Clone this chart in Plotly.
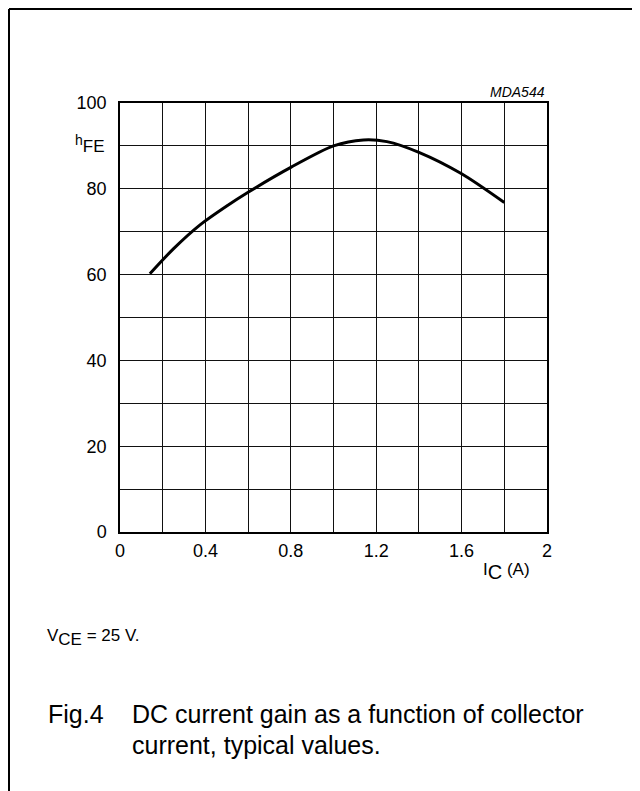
import plotly.graph_objects as go

# Data
ic_values = [0.14, 0.25, 0.375, 0.5, 0.6, 0.8, 1.0, 1.14, 1.25, 1.4, 1.6, 1.8]
hfe_values = [60.2, 66.0, 71.6, 76.0, 79.2, 85.0, 90.0, 91.4, 91.0, 88.5, 83.5, 76.8]

x_tickvals = [0, 0.4, 0.8, 1.2, 1.6, 2.0]
x_ticktext = ["0", "0.4", "0.8", "1.2", "1.6", "2"]
x_gridvals = [0.2, 0.6, 1.0, 1.4, 1.8]
y_tickvals = [0, 20, 40, 60, 80, 100]
y_ticktext = ["0", "20", "40", "60", "80", "100"]
y_gridvals = [10, 30, 50, 70, 90]

W, H = 640, 791
OFF = 8  # page body margin: screen = figure + 8
L, R, T, B = 120 - OFF, 547 - OFF, 103 - OFF, 532 - OFF
pw, ph = R - L, B - T


def px(xs):
    # screen pixel -> paper x
    return (xs - OFF - L) / pw


def py(ys):
    # screen pixel -> paper y
    return (B - (ys - OFF)) / ph


FONT = "Liberation Sans, Arial, sans-serif"
GRID = "#111111"

fig = go.Figure()
fig.add_trace(go.Scatter(
    x=ic_values, y=hfe_values, mode="lines",
    line=dict(color="black", width=3, shape="spline", smoothing=0.8),
    hoverinfo="skip", showlegend=False,
))

axis_common = dict(
    showgrid=True, gridcolor=GRID, gridwidth=1,
    showline=True, linecolor="black", linewidth=1.5, mirror=True,
    zeroline=False, ticks="", tickfont=dict(family=FONT, size=18, color="black"),
    tickmode="array",
)

fig.update_xaxes(range=[0, 2], tickvals=x_tickvals, ticktext=x_ticktext,
                 ticklabelstandoff=2,
                 minor=dict(tickmode="array", tickvals=x_gridvals, showgrid=True,
                            gridcolor=GRID, gridwidth=1, ticks=""),
                 **axis_common)
fig.update_yaxes(range=[0, 100], tickvals=y_tickvals, ticktext=y_ticktext,
                 ticklabelstandoff=8,
                 minor=dict(tickmode="array", tickvals=y_gridvals, showgrid=True,
                            gridcolor=GRID, gridwidth=1, ticks=""),
                 **axis_common)

annotations = [
    dict(text="<i>MDA544</i>", x=px(547), y=py(92), xanchor="right", yanchor="middle",
         font=dict(size=14)),
    dict(text="<sup><span style='font-size:14px'>h</span></sup>FE", x=px(107), y=py(144),
         xanchor="right", yanchor="middle", font=dict(size=17)),
    dict(text="I<sub><span style='font-size:20px'>C</span></sub> (A)", x=px(481), y=py(571),
         xanchor="left", yanchor="middle", font=dict(size=17)),
    dict(text="V<sub><span style='font-size:17px'>CE</span></sub> = 25 V.", x=px(45), y=py(637),
         xanchor="left", yanchor="middle", font=dict(size=17)),
    dict(text="Fig.4", x=px(46), y=py(714), xanchor="left", yanchor="middle",
         font=dict(size=25)),
    dict(text="DC current gain as a function of collector", x=px(130), y=py(714),
         xanchor="left", yanchor="middle", font=dict(size=25)),
    dict(text="current, typical values.", x=px(130), y=py(745),
         xanchor="left", yanchor="middle", font=dict(size=25)),
]
for a in annotations:
    a.update(xref="paper", yref="paper", showarrow=False)
    a["font"].update(family=FONT, color="black")

fx0 = (1 - L) / pw
fy0 = (B - 1) / ph
shapes = [
    dict(type="line", xref="paper", yref="paper", x0=fx0, x1=(W - L) / pw, y0=fy0, y1=fy0,
         line=dict(color="black", width=2)),
    dict(type="line", xref="paper", yref="paper", x0=fx0, x1=fx0, y0=fy0, y1=(B - H) / ph,
         line=dict(color="black", width=2)),
]

fig.update_layout(
    width=W, height=H,
    margin=dict(l=L, r=W - R, t=T, b=H - B, autoexpand=False),
    paper_bgcolor="white", plot_bgcolor="white",
    annotations=annotations, shapes=shapes,
    font=dict(family=FONT, color="black"),
)

fig.write_html("out.html")
